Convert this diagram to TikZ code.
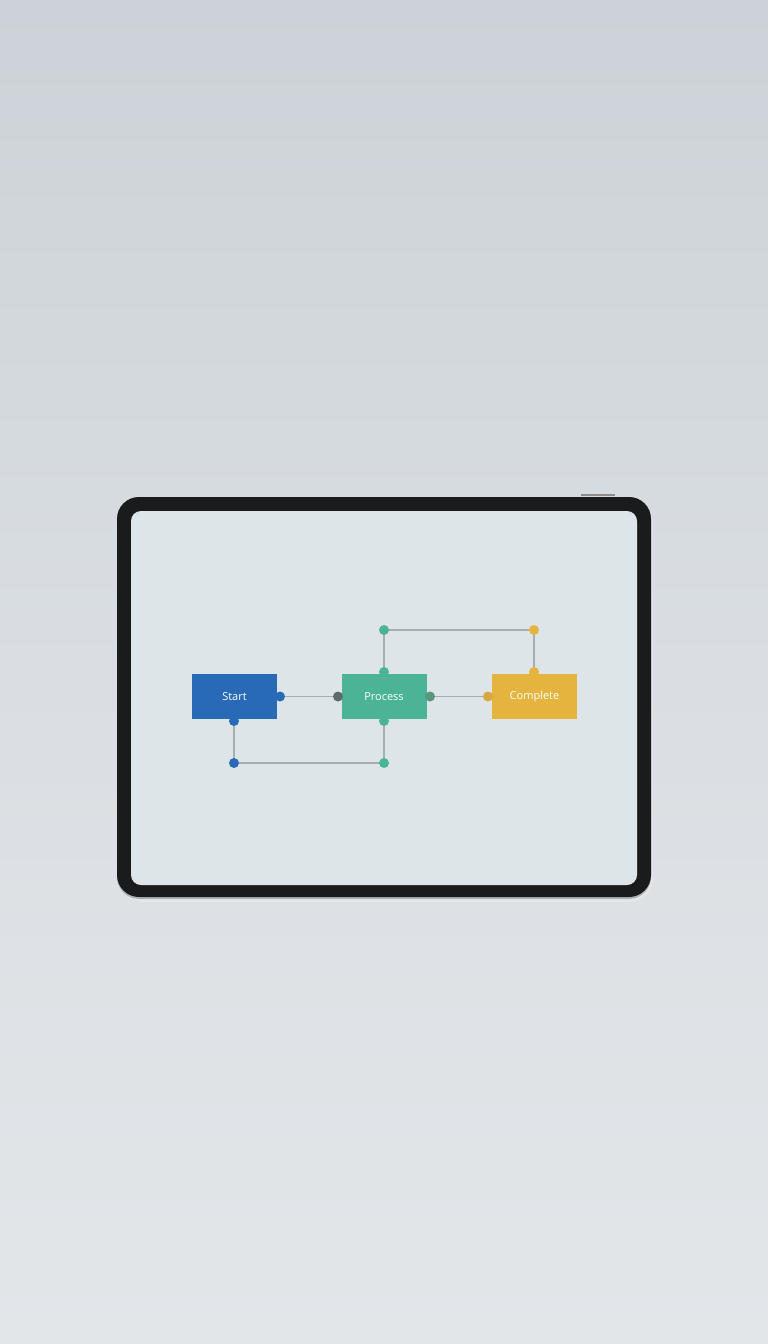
\documentclass[tikz,border=0pt]{standalone}
\usepackage{fontspec}
\setmainfont{Open Sans}
\pgfdeclarelayer{back}
\pgfdeclarelayer{bg}
\pgfsetlayers{back,bg,main}
\definecolor{bgtop}{RGB}{204,210,215}
\definecolor{bgmid}{RGB}{218,222,226}
\definecolor{bgbot}{RGB}{227,230,233}
\definecolor{screen}{RGB}{221,229,232}
\definecolor{frame}{RGB}{26,27,28}
\definecolor{cblue}{RGB}{40,106,182}
\definecolor{cteal}{RGB}{75,180,150}
\definecolor{cyellow}{RGB}{228,180,62}
\definecolor{cgray}{RGB}{96,106,106}
\definecolor{ctealdark}{RGB}{88,150,128}
\definecolor{cyelldark}{RGB}{214,168,62}
\definecolor{lineg}{RGB}{165,174,178}
\tikzset{
  stepbox/.style={rectangle, minimum width=85pt, minimum height=45pt, inner sep=0pt,
    text=white, font=\fontsize{11}{13}\selectfont},
  dot/.style={circle, minimum size=10pt, inner sep=0pt},
  conn/.style={draw=lineg, line width=1.3pt}
}
\begin{document}
\begin{tikzpicture}[x=1pt,y=-1pt]
\begin{pgfonlayer}{back}
\shade[top color=bgtop, bottom color=bgbot, middle color=bgmid] (0,0) rectangle (768,1344);
% shadow
\fill[black!8, opacity=0.5, rounded corners=24pt] (119,500) rectangle (653,902);
% side button
\draw[draw=black!45, line width=1.5pt] (581,495) -- (615,495);
% tablet frame
\fill[black!30, rounded corners=22pt] (117,497) rectangle (651,899);
\fill[frame, rounded corners=22pt] (117,497) rectangle (651,897);
\fill[screen, rounded corners=10pt] (131,511) rectangle (637,885);
\end{pgfonlayer}

\node[stepbox, fill=cblue] (start) at (234.5,696.5) {Start};
\node[stepbox, fill=cteal] (process) at (384,696.5) {Process};
\node[stepbox, fill=cyellow] (complete) at (534.5,696.5) {Complete};

\node[dot, fill=cblue] (sr) at (280,696.5) {};
\node[dot, fill=cblue] (sb) at (234,721) {};
\node[dot, fill=cblue] (bl) at (234,763) {};
\node[dot, fill=cgray] (pl) at (338,696.5) {};
\node[dot, fill=cteal] (pt) at (384,672) {};
\node[dot, fill=cteal] (pb) at (384,721) {};
\node[dot, fill=cteal] (br) at (384,763) {};
\node[dot, fill=cteal] (tl) at (384,630) {};
\node[dot, fill=ctealdark] (pr) at (430,696.5) {};
\node[dot, fill=cyelldark] (cl) at (488,696.5) {};
\node[dot, fill=cyellow] (tr) at (534,630) {};
\node[dot, fill=cyellow] (ct) at (534,672) {};

\begin{pgfonlayer}{bg}
\draw[conn] (sr.center) -- (pl.center);
\draw[conn] (pr.center) -- (cl.center);
\draw[conn] (sb.center) -- (bl.center) -- (br.center) -- (pb.center);
\draw[conn] (pt.center) -- (tl.center) -- (tr.center) -- (ct.center);
\end{pgfonlayer}
\end{tikzpicture}
\end{document}
